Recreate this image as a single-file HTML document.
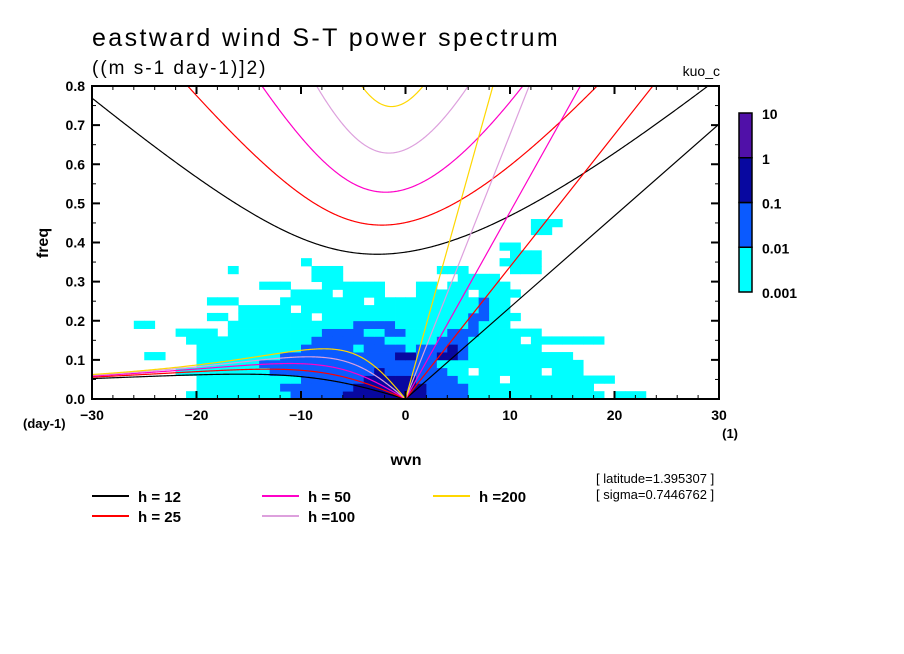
<!DOCTYPE html>
<html><head><meta charset="utf-8"><style>
html,body{margin:0;padding:0;background:#fff;}
svg{display:block;font-family:"Liberation Sans",sans-serif;}
</style></head><body>
<svg id="chart" width="904" height="654" viewBox="0 0 904 654">
<defs><clipPath id="clip"><rect x="92" y="86" width="627" height="313"/></clipPath></defs>
<text x="92" y="46" font-size="25" letter-spacing="2.4">eastward wind S-T power spectrum</text>
<text x="92" y="74" font-size="19" letter-spacing="2">((m s-1 day-1)]2)</text>
<text x="720" y="76" font-size="14" text-anchor="end">kuo_c</text>
<g id="heat" clip-path="url(#clip)"></g>
<g id="curves" clip-path="url(#clip)"></g>
<rect x="92" y="86" width="627" height="313" fill="none" stroke="#000" stroke-width="2"/>
<g id="axes"></g>
<text x="406" y="465" font-size="16" font-weight="bold" text-anchor="middle">wvn</text>
<text x="48" y="243" font-size="16" font-weight="bold" text-anchor="middle" transform="rotate(-90 48 243)">freq</text>
<text x="23" y="428" font-size="13" font-weight="bold">(day-1)</text>
<text x="738" y="438" font-size="13" font-weight="bold" text-anchor="end">(1)</text>
<g id="cbar"></g>
<g id="legend"></g>
<text x="596" y="483" font-size="13">[ latitude=1.395307 ]</text>
<text x="596" y="499" font-size="13">[ sigma=0.7446762 ]</text>
</svg>
<script>
const depths = [12, 25, 50, 100, 200];
const depthColors = ["#000000", "#ff0000", "#ff00c8", "#dda0dd", "#ffd700"];
const xTicks = [-30, -20, -10, 0, 10, 20, 30];
const yTicks = [0, 0.1, 0.2, 0.3, 0.4, 0.5, 0.6, 0.7, 0.8];
const levelLabels = ["0.001", "0.01", "0.1", "1", "10"];
const levelColors = ["#00ffff", "#0a5aff", "#0808a0", "#5010a8"];
// power level grid: row r = freq [0.02r,0.02r+0.02], col c = wvn [-30+c,-29+c]
const powerRows = [
"000000000111111111122222333333"+"332222111111111111101110000000",
"000000000011111111222222233333"+"332222111111111111000000000000",
"000000000011111111112222223333"+"322221111011111111110000000000",
"000000001111111112222222222322"+"222211011111101110000000000000",
"000000000011111122222222222222"+"222111111111111110000000000000",
"000001100011111111222222222223"+"322332111111111100000000000000",
"000000000011111111112222212222"+"122232111111100000000000000000",
"000000000111111111111222222211"+"111222111110111111100000000000",
"000000001111011111111122221122"+"111122211111100000000000000000",
"000011000000011111111111122221"+"111111211100000000000000000000",
"000000000001101111111011111111"+"111111221110000000000000000000",
"000000000000001111101111111111"+"111111121100000000000000000000",
"000000000001110000111111110111"+"111111121100000000000000000000",
"000000000000000000011110111100"+"011111011110000000000000000000",
"000000000000000011100011111100"+"011011111100000000000000000000",
"000000000000000000000111000000"+"000001111000000000000000000000",
"000000000000010000000111000000"+"000111000011100000000000000000",
"000000000000000000001000000000"+"000000000111100000000000000000",
"000000000000000000000000000000"+"000000000011100000000000000000",
"000000000000000000000000000000"+"000000000110000000000000000000",
"000000000000000000000000000000"+"000000000000000000000000000000",
"000000000000000000000000000000"+"000000000000110000000000000000",
"000000000000000000000000000000"+"000000000000111000000000000000"
];
const NS="http://www.w3.org/2000/svg";
const X0=92,X1=719,Y0=399,Y1=86;
function xs(w){return X0+(w+30)*(X1-X0)/60;}
function ys(f){return Y0-f*(Y0-Y1)/0.8;}
function mk(tag,attrs,parent){const e=document.createElementNS(NS,tag);for(const k in attrs)e.setAttribute(k,attrs[k]);parent.appendChild(e);return e;}

const heat=document.getElementById('heat');
powerRows.forEach((row,r)=>{
  for(let c=0;c<row.length;c++){
    const lv=+row[c]; if(!lv) continue;
    const w=-30+c, f=0.02*r;
    const cell=mk('rect',{x:xs(w).toFixed(2),y:ys(f+0.02).toFixed(2),width:(xs(w+1)-xs(w)+0.4).toFixed(2),height:(ys(f)-ys(f+0.02)+0.4).toFixed(2),fill:levelColors[lv-1]},heat);
    
    
  }
});

const a=6.371e6,beta=2*7.292e-5/a,g=9.81,toCpd=86400/(2*Math.PI);
function roots(s,h){
  const c=Math.sqrt(g*h),k=s/a;
  const p=-(c*c*k*k+3*beta*c), q=-beta*k*c*c;
  const m=2*Math.sqrt(-p/3), th=Math.acos(Math.max(-1,Math.min(1,(3*q/(2*p))*Math.sqrt(-3/p))))/3;
  return [0,1,2].map(j=>m*Math.cos(th-2*Math.PI*j/3)*toCpd).sort((u,v)=>v-u);
}
const curves=document.getElementById('curves');
depths.forEach((h,i)=>{
  const col=depthColors[i];
  let ig=[],ros=[];
  for(let s=-30;s<=30.001;s+=0.1){
    const r=roots(s,h);
    ig.push(xs(s).toFixed(2)+','+ys(r[0]).toFixed(2));
    if(s<=0.0001) ros.push(xs(s).toFixed(2)+','+ys(Math.max(0,r[1])).toFixed(2));
  }
  const c=Math.sqrt(g*h);
  const kel=[xs(0)+','+ys(0), xs(30)+','+ys(c*30/a*toCpd)];
  const p1=mk('polyline',{points:ig.join(' '),fill:'none',stroke:col,'stroke-width':1.2},curves);
  
  
  const p2=mk('polyline',{points:ros.join(' '),fill:'none',stroke:col,'stroke-width':1.2},curves);
  
  
  const p3=mk('polyline',{points:kel.join(' '),fill:'none',stroke:col,'stroke-width':1.2},curves);
  
  
});

const axes=document.getElementById('axes');


for(let w=-30;w<=30;w+=2){
  const major=(w%10===0), L=major?8:4;
  mk('line',{x1:xs(w),x2:xs(w),y1:Y0,y2:Y0-L,stroke:'#000','stroke-width':major?2:1},axes);
  mk('line',{x1:xs(w),x2:xs(w),y1:Y1,y2:Y1+L,stroke:'#000','stroke-width':major?2:1},axes);
}
for(let k=0;k<=16;k++){
  const f=k*0.05, major=(k%2===0), L=major?8:4;
  mk('line',{x1:X0,x2:X0+L,y1:ys(f),y2:ys(f),stroke:'#000','stroke-width':major?2:1},axes);
  mk('line',{x1:X1,x2:X1-L,y1:ys(f),y2:ys(f),stroke:'#000','stroke-width':major?2:1},axes);
}
xTicks.forEach(w=>{
  const t=mk('text',{x:xs(w),y:420,'font-size':14,'font-weight':'bold','text-anchor':'middle'},axes);
  t.textContent=(w<0?'\u2212'+(-w):String(w));
  
  
});
yTicks.forEach(f=>{
  const t=mk('text',{x:85,y:ys(f)+5,'font-size':14,'font-weight':'bold','text-anchor':'end'},axes);
  t.textContent=f.toFixed(1);
  
  
});

const cb=document.getElementById('cbar');
const cbTop=113,cbBot=292,cbH=(cbBot-cbTop)/levelColors.length;
levelColors.forEach((col,i)=>{
  const r=mk('rect',{x:739,y:cbBot-(i+1)*cbH,width:13,height:cbH,fill:col,stroke:'#000','stroke-width':1.5},cb);
  
  
});
levelLabels.forEach((lab,i)=>{
  const t=mk('text',{x:762,y:cbBot-i*cbH+6,'font-size':14,'font-weight':'bold'},cb);
  t.textContent=lab;
  
  
});

const lg=document.getElementById('legend');
const legendPos=[[92,496],[92,516],[262,496],[262,516],[433,496]];
const legendText=["h = 12","h = 25","h = 50","h =100","h =200"];
depths.forEach((h,i)=>{
  const [lx,ly]=legendPos[i];
  const l=mk('line',{x1:lx,x2:lx+37,y1:ly,y2:ly,stroke:depthColors[i],'stroke-width':2},lg);
  
  
  const t=mk('text',{x:lx+46,y:ly+6,'font-size':15,'font-weight':'bold'},lg);
  t.textContent=legendText[i];
  
  
});
</script>
</body></html>
